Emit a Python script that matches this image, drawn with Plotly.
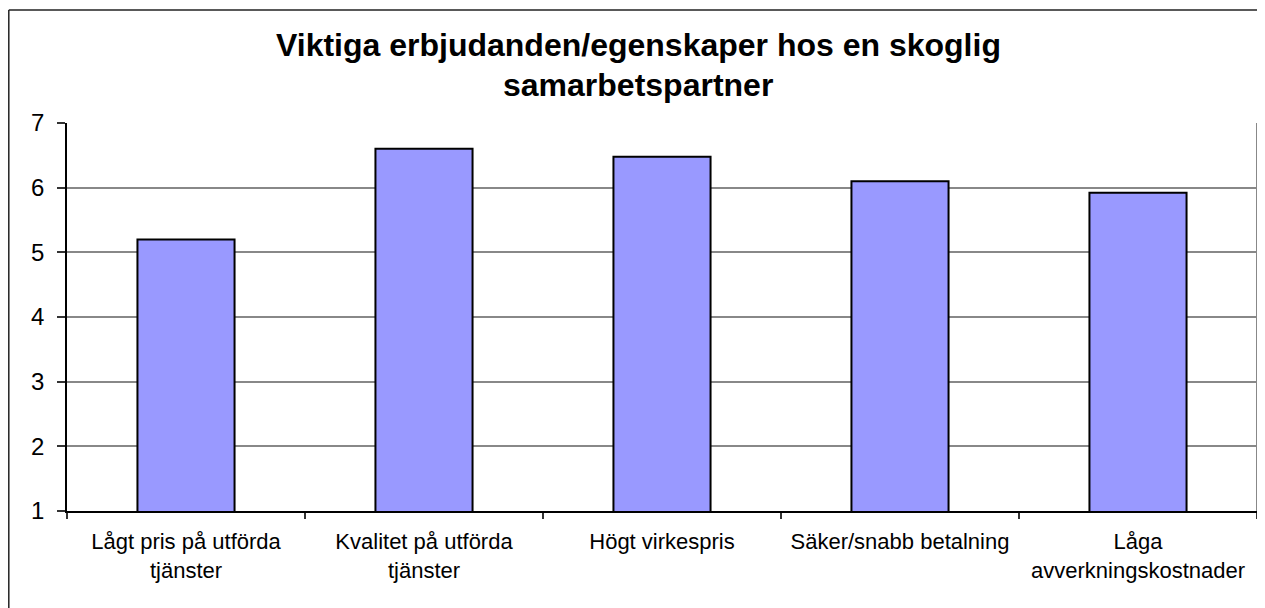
import plotly.graph_objects as go

categories = ["Lågt pris på utförda tjänster", "Kvalitet på utförda tjänster",
              "Högt virkespris", "Säker/snabb betalning", "Låga avverkningskostnader"]
tick_labels = ["Lågt pris på utförda<br>tjänster", "Kvalitet på utförda<br>tjänster",
               "Högt virkespris", "Säker/snabb betalning", "Låga<br>avverkningskostnader"]
values = [5.2, 6.6, 6.48, 6.1, 5.92]
y_ticks = [1, 2, 3, 4, 5, 6, 7]
title_lines = ["Viktiga erbjudanden/egenskaper hos en skoglig", "samarbetspartner"]

FONT = "Liberation Sans, Arial, sans-serif"
OFF = 8  # page body margin
W, H = 1265 - OFF, 608 - OFF
L, R, T, B = 67 - OFF, 8, 123 - OFF, 97
pw, ph = W - L - R, H - T - B

def px_x(x):
    # x given in page pixels
    return (x - OFF - L) / pw

def px_y(y):
    return (H - B - (y - OFF)) / ph

fig = go.Figure()
fig.add_trace(go.Bar(
    x=categories, y=values,
    marker=dict(color="#9999FF", line=dict(color="black", width=2)),
    hoverinfo="x+y",
))

fig.update_layout(
    width=W, height=H,
    margin=dict(l=L, r=R, t=T, b=B, autoexpand=False),
    paper_bgcolor="white", plot_bgcolor="white",
    bargap=0.592,
    showlegend=False,
    font=dict(family=FONT, color="black"),
    xaxis=dict(
        automargin=False,
        tickmode="array", tickvals=categories, ticktext=tick_labels,
        tickson="boundaries", ticks="outside", ticklen=6, tickcolor="#333",
        tickwidth=1.5,
        showline=True, linecolor="black", linewidth=1.5,
        showgrid=False,
        tickfont=dict(size=22, family=FONT, color="black"),
        tickangle=0,
        ticklabelstandoff=10,
    ),
    yaxis=dict(
        automargin=False,
        range=[1, 7], tickvals=y_ticks,
        ticks="outside", ticklen=8, tickcolor="#333", tickwidth=1.5,
        showline=True, linecolor="black", linewidth=1.5,
        showgrid=True, gridcolor="#888", gridwidth=1.5,
        zeroline=False,
        tickfont=dict(size=24, family=FONT, color="black"),
        ticklabelstandoff=8,
    ),
)

# right plot border (gray)
fig.add_shape(type="line", xref="paper", yref="paper", x0=1, x1=1, y0=0, y1=1,
              line=dict(color="#888", width=2))
# outer chart border (cropped at right and bottom)
fig.add_shape(type="line", xref="paper", yref="paper",
              x0=px_x(8.8), x1=px_x(1300), y0=px_y(10), y1=px_y(10),
              line=dict(color="#222", width=1.5))
fig.add_shape(type="line", xref="paper", yref="paper",
              x0=px_x(8.8), x1=px_x(8.8), y0=px_y(10), y1=px_y(650),
              line=dict(color="#222", width=1.5))

title_y = [45, 85.5]
for line, yy in zip(title_lines, title_y):
    fig.add_annotation(text="<b>" + line + "</b>", xref="paper", yref="paper",
                       x=px_x(638), y=px_y(yy), xanchor="center", yanchor="middle",
                       showarrow=False, font=dict(size=32, family=FONT, color="black"))

fig.write_html("out.html")
